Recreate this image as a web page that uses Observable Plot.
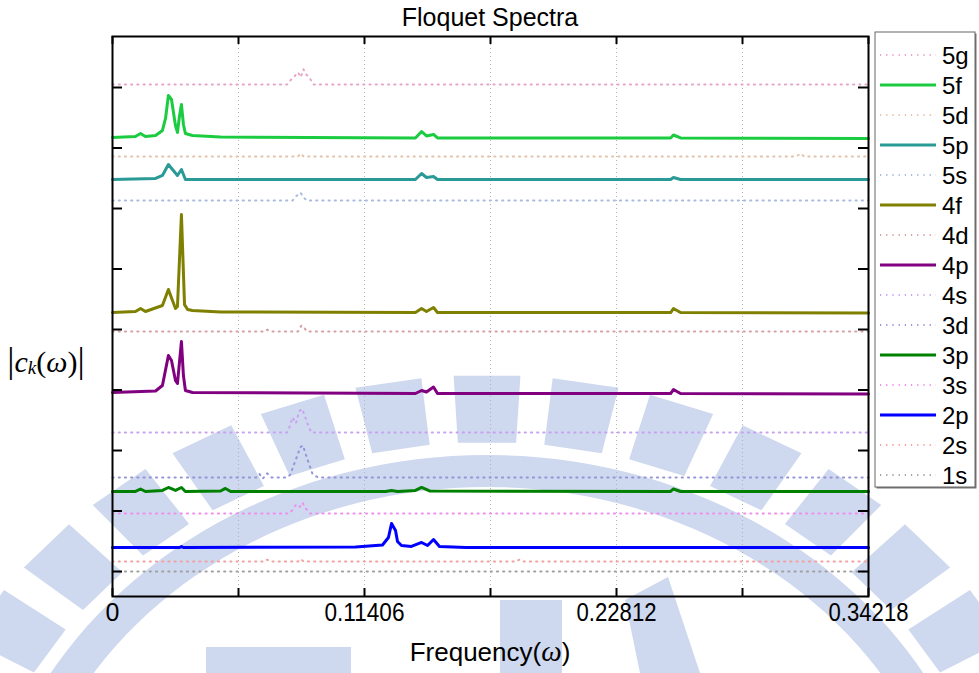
<!DOCTYPE html>
<html><head><meta charset="utf-8">
<script src="https://cdn.jsdelivr.net/npm/d3@7"></script>
<script src="https://cdn.jsdelivr.net/npm/@observablehq/plot@0.6"></script>
<style>html,body{margin:0;padding:0;background:#fff}svg{display:block}</style>
</head><body><div id="chart"></div>
<script>
// ---- series metadata (top to bottom, legend order) ----
const seriesNames   = ["5g","5f","5d","5p","5s","4f","4d","4p","4s","3d","3p","3s","2p","2s","1s"];
const seriesColors  = ["#e8a4c8","#1ccc40","#e2c2aa","#2a9a96","#a8badf","#808000","#d6a0a4","#800080","#c8a2f0","#9494d8","#008000","#f08ef0","#0000ff","#f2a0a0","#a0a0a0"];
const seriesDotted  = [true,false,true,false,true,false,true,false,true,true,false,true,false,true,true];
const seriesOffsets = [8.463,7.587,7.273,6.893,6.545,4.694,4.380,3.355,2.711,1.967,1.736,1.372,0.810,0.579,0.413];

// ---- spectra (frequency, amplitude above own baseline) ----
const freq5g = [0,0.0790,0.0806,0.0825,0.0840,0.0852,0.0864,0.0878,0.0890,0.0910,0.34218];
const amp5g  = [0,0,0.07,0.14,0.20,0.12,0.25,0.16,0.12,0,0];
const freq5f = [0,0.0104,0.0127,0.0149,0.0195,0.0226,0.0240,0.0253,0.0267,0.0285,0.0294,0.0303,0.0312,0.0321,0.0330,0.0362,0.0489,0.1371,0.1399,0.1421,0.1453,0.1471,0.2526,0.2539,0.2571,0.34218];
const amp5f  = [0,0.017,0.066,0.017,0.033,0.116,0.314,0.694,0.628,0.198,0.083,0.347,0.545,0.215,0.066,0.033,0.008,-0.008,0.099,0.025,0.050,-0.008,-0.008,0.041,-0.008,-0.017];
const freq5d = [0,0.0840,0.0852,0.0865,0.3095,0.3114,0.3130,0.34218];
const amp5d  = [0,0,0.05,0,0,0.05,0,0];
const freq5p = [0,0.0195,0.0226,0.0253,0.0294,0.0312,0.0330,0.1371,0.1399,0.1421,0.1453,0.1471,0.2526,0.2539,0.2571,0.34218];
const amp5p  = [0,0.017,0.066,0.248,0.066,0.165,0,0,0.099,0.033,0.050,0,0,0.033,0,0];
const freq5s = [0,0.0815,0.0830,0.0842,0.0851,0.0865,0.0880,0.34218];
const amp5s  = [0,0,0.07,0.10,0.13,0.05,0,0];
const freq4f = [0,0.0104,0.0127,0.0149,0.0226,0.0253,0.0285,0.0294,0.0312,0.0326,0.0340,0.0362,0.0489,0.1371,0.1399,0.1421,0.1453,0.1471,0.2526,0.2539,0.2571,0.34218];
const amp4f  = [0,0.017,0.066,0.017,0.116,0.380,0.066,0.10,1.620,0.13,0.05,0.033,0.008,0,0.066,0.017,0.083,0,0,0.066,0,-0.008];
const freq4d = [0,0.0690,0.0700,0.0712,0.0840,0.0855,0.0868,0.0880,0.34218];
const amp4d  = [0,0,0.03,0,0,0.10,0.06,0,0];
const freq4p = [0,0.0195,0.0226,0.0253,0.0267,0.0285,0.0294,0.0312,0.0321,0.0330,0.0362,0.1371,0.1399,0.1421,0.1453,0.1471,0.2526,0.2539,0.2571,0.34218];
const amp4p  = [0.017,0.041,0.132,0.628,0.545,0.215,0.165,0.860,0.298,0.050,0.017,0,0.050,0.025,0.107,0,0,0.066,0,-0.008];
const freq4s = [0,0.0790,0.0800,0.0815,0.0830,0.0845,0.0858,0.0870,0.0885,0.0900,0.34218];
const amp4s  = [0,0,0.08,0.25,0.15,0.35,0.39,0.28,0.12,0,0];
const freq3d = [0,0.0650,0.0665,0.0680,0.0700,0.0720,0.0790,0.0805,0.0820,0.0835,0.0850,0.0862,0.0875,0.0890,0.0905,0.0930,0.34218];
const amp3d  = [0,0,0.06,-0.02,0.07,0,0,0.05,0.20,0.35,0.50,0.53,0.38,0.22,0.06,0,0];
const freq3p = [0,0.0104,0.0127,0.0149,0.0226,0.0253,0.0285,0.0312,0.0330,0.0489,0.0511,0.0535,0.1235,0.1263,0.1290,0.1371,0.1399,0.1435,0.2526,0.2539,0.2571,0.34218];
const amp3p  = [0,0,0.041,0,0.017,0.066,0.017,0.066,0,0.008,0.050,0,0,0.017,0,0.017,0.066,0.008,0,0.041,0,0];
const freq3s = [0,0.0800,0.0815,0.0830,0.0845,0.0860,0.0875,0.0895,0.34218];
const amp3s  = [0,0,0.06,0.14,0.10,0.18,0.08,0,0];
const freq2p = [0,0.0303,0.0312,0.0321,0.1100,0.1222,0.1249,0.1263,0.1281,0.1290,0.1308,0.1353,0.1399,0.1426,0.1453,0.1480,0.1600,0.34218];
const amp2p  = [0,0,0.017,0,0.008,0.041,0.165,0.397,0.281,0.099,0.033,0.017,0.083,0.033,0.132,0.017,0,0];
const freq2s = [0,0.0690,0.0700,0.0712,0.0840,0.0852,0.0865,0.1830,0.1840,0.1852,0.34218];
const amp2s  = [0,0,0.03,0,0,0.04,0,0,0.03,0,0];
const freq1s = [0,0.34218];
const amp1s  = [0,0];

// ---- axes ----
const xGridTicks  = [0.05703,0.11406,0.17109,0.22812,0.28515];
const xAllTicks   = [0,0.05703,0.11406,0.17109,0.22812,0.28515,0.34218];
const xLabelTicks = [0,0.11406,0.22812,0.34218];
const xTickLabels = ["0","0.11406","0.22812","0.34218"];
const yTicks      = [0.413,1.413,2.413,3.413,4.413,5.413,6.413,7.413,8.413];
const titleText   = "Floquet Spectra";

const freqs = [freq5g,freq5f,freq5d,freq5p,freq5s,freq4f,freq4d,freq4p,freq4s,freq3d,freq3p,freq3s,freq2p,freq2s,freq1s];
const amps  = [amp5g,amp5f,amp5d,amp5p,amp5s,amp4f,amp4d,amp4p,amp4s,amp3d,amp3p,amp3s,amp2p,amp2s,amp1s];

const rows = [];
seriesNames.forEach((name, i) => {
  freqs[i].forEach((f, j) => rows.push({name, f, y: seriesOffsets[i] + amps[i][j], i}));
});

const order = seriesNames.map((_, i) => i).sort((a, b) => (seriesDotted[b] - seriesDotted[a]));
const lineMarks = order.map(i => Plot.line(rows.filter(r => r.i === i), {
  x: "f", y: "y",
  stroke: seriesColors[i],
  strokeWidth: seriesDotted[i] ? 2 : 3,
  strokeDasharray: seriesDotted[i] ? "1.2,5" : null,
  strokeLinejoin: "round"
}));

const W = 979, H = 673, ML = 112, MR = 111, MT = 36, MB = 77;
const svg = Plot.plot({
  width: W, height: H,
  marginLeft: ML, marginRight: MR, marginTop: MT, marginBottom: MB,
  style: {fontFamily: "Liberation Sans, Arial, sans-serif", fontSize: "25px", color: "black", background: "transparent"},
  x: {domain: [0, 0.34218], ticks: xLabelTicks, tickSize: 0, tickPadding: 7,
      tickFormat: d => xTickLabels[xLabelTicks.indexOf(d)], label: null},
  y: {domain: [0, 9.256], axis: null},
  marks: [
    Plot.ruleX(xGridTicks, {x: d => d, stroke: "#b4b4b4", strokeDasharray: "1,3", strokeWidth: 1}),
    ...lineMarks,
    Plot.tickX(xAllTicks, {x: d => d, stroke: "black", strokeWidth: 2, insetTop: 552}),
    Plot.tickX(xAllTicks, {x: d => d, stroke: "black", strokeWidth: 2, insetBottom: 552}),
    Plot.tickY(yTicks, {y: d => d, stroke: "black", strokeWidth: 2, insetRight: 746}),
    Plot.tickY(yTicks, {y: d => d, stroke: "black", strokeWidth: 2, insetLeft: 746}),
    Plot.frame({stroke: "black", strokeWidth: 2})
  ]
});

const s = d3.select(svg);
s.selectAll("g[aria-label^='x-axis']").attr("font-size", 25);
s.selectAll("g[aria-label^='x-axis'] text").attr("font-size", 25)
  .each(function() { const t = this.textContent; if (t.length > 1) d3.select(this).attr("textLength", 80).attr("lengthAdjust", "spacingAndGlyphs"); });

// ---- watermark (decorative, behind everything) ----
const wm = s.insert("g", ":first-child").attr("fill", "rgb(206,216,238)");
const cx = 487, cy = 900, sx = 1.14;
const pt = (R, deg) => { const t = deg * Math.PI / 180; return [cx + sx * R * Math.sin(t), cy - R * Math.cos(t)]; };
const band = [];
for (let a = -64; a <= 64; a += 2) band.push(pt(445, a));
for (let a = 64; a >= -64; a -= 2) band.push(pt(413, a));
wm.append("path").attr("d", "M" + band.map(p => p.join(",")).join("L") + "Z");
for (let k = -7; k <= 7; k++) {
  const tc = k * 9.5, hw = 3.2;
  const poly = [pt(458, tc - hw), pt(525, tc - hw), pt(525, tc + hw), pt(458, tc + hw)];
  wm.append("path").attr("d", "M" + poly.map(p => p.join(",")).join("L") + "Z");
}
wm.append("rect").attr("x", 206).attr("y", 647).attr("width", 145).attr("height", 30);
wm.append("rect").attr("x", 500).attr("y", 600).attr("width", 62).attr("height", 80);
wm.append("path").attr("d", "M625,600L668,577L700,673L640,673Z");

// ---- title ----
s.append("text").attr("x", 490).attr("y", 26).attr("text-anchor", "middle")
  .attr("font-family", "Liberation Sans, Arial, sans-serif").attr("font-size", 25).attr("fill", "black")
  .text(titleText);

// ---- x label ----
const xl = s.append("text").attr("x", 490).attr("y", 661).attr("text-anchor", "middle")
  .attr("font-family", "Liberation Sans, Arial, sans-serif").attr("font-size", 26).attr("fill", "black");
xl.append("tspan").text("Frequency(");
xl.append("tspan").attr("font-family", "Liberation Serif, Times New Roman, serif").attr("font-style", "italic").attr("font-size", 29).text("ω");
xl.append("tspan").text(")");

// ---- y label ----
const yl = s.append("text").attr("x", 46).attr("y", 372).attr("text-anchor", "middle")
  .attr("font-family", "Liberation Serif, Times New Roman, serif").attr("font-size", 30).attr("fill", "black");
yl.append("tspan").attr("font-size", 36).text("|");
yl.append("tspan").attr("font-style", "italic").text("c");
yl.append("tspan").attr("font-style", "italic").attr("font-size", 19).attr("dy", 2).text("k");
yl.append("tspan").attr("dy", -2).text("(");
yl.append("tspan").attr("font-style", "italic").text("ω");
yl.append("tspan").text(")");
yl.append("tspan").attr("font-size", 36).text("|");

// ---- legend ----
const lg = s.append("g");
const LX = 875, LY = 32, LW = 100, LH = 455, step = 30;
lg.append("rect").attr("x", LX + 1.5).attr("y", LY + 1.5).attr("width", LW).attr("height", LH).attr("fill", "#777");
lg.append("rect").attr("x", LX).attr("y", LY).attr("width", LW).attr("height", LH).attr("fill", "white").attr("stroke", "#666").attr("stroke-width", 1);
seriesNames.forEach((name, i) => {
  const y = 55 + i * step;
  lg.append("line").attr("x1", 880).attr("x2", 936).attr("y1", y).attr("y2", y)
    .attr("stroke", seriesColors[i]).attr("stroke-width", seriesDotted[i] ? 2 : 3)
    .attr("stroke-dasharray", seriesDotted[i] ? "1.2,5" : null);
  lg.append("text").attr("x", 942).attr("y", y + 8.5).attr("text-anchor", "start")
    .attr("font-family", "Liberation Sans, Arial, sans-serif")
    .attr("font-size", 24).attr("fill", "black").text(name);
});

document.getElementById("chart").appendChild(svg);
</script>
</body></html>
